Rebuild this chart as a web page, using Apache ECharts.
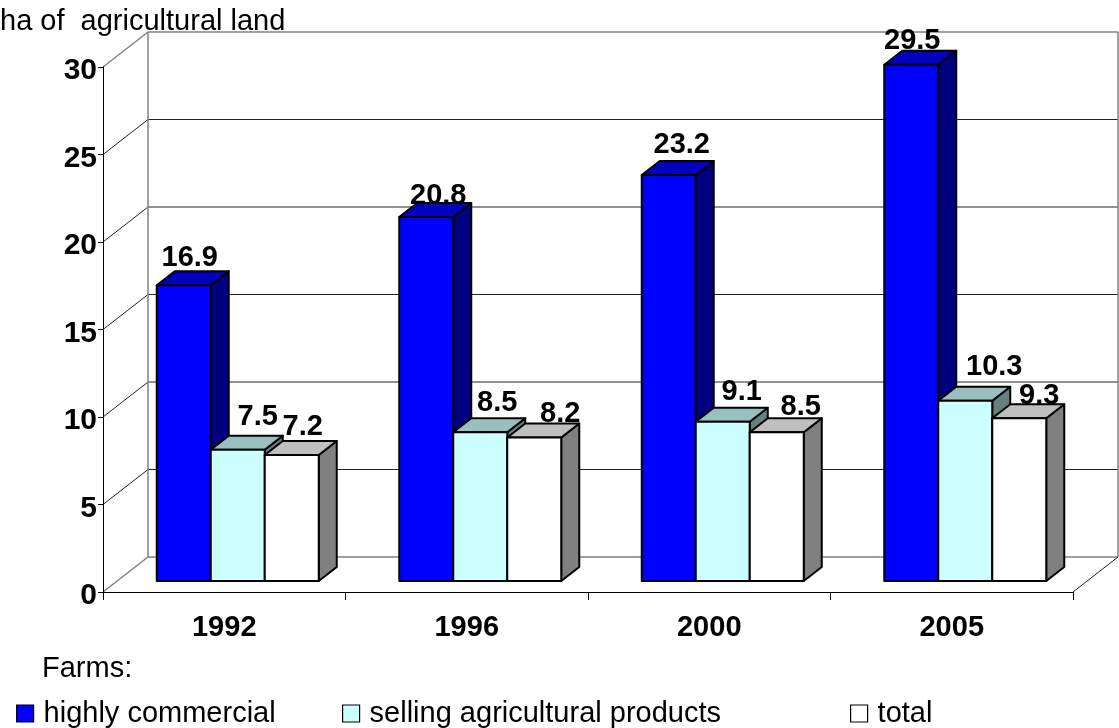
<!DOCTYPE html>
<html>
<head>
<meta charset="utf-8">
<style>html,body{margin:0;padding:0;background:#fff}#chart{width:1119px;height:728px}</style>
<script src="https://cdn.jsdelivr.net/npm/echarts@6/dist/echarts.min.js"></script>
</head>
<body>
<div id="chart"></div>
<script>
var categories = ['1992', '1996', '2000', '2005'];
var yTicks = [0, 5, 10, 15, 20, 25, 30];
var highlyCommercial = [16.9, 20.8, 23.2, 29.5];
var sellingProducts = [7.5, 8.5, 9.1, 10.3];
var totalFarms = [7.2, 8.2, 8.5, 9.3];
var seriesNames = ['highly commercial', 'selling agricultural products', 'total'];

// 3D look
var FONT = '"Liberation Sans", Arial, sans-serif';
var WALL_DX = 45, WALL_DY = -35;      // depth of the chart box
var BAR_DX = 18, BAR_DY = -14;        // depth of each bar
var FLOOR_DX = 13.5, FLOOR_DY = -11;  // bars stand this far inside the box
var BAR_FRAC = 54 / 242.5;
var faces = [
  {front: '#0000FF', top: '#0000BF', side: '#000080'},
  {front: '#CCFFFF', top: '#99BFBF', side: '#668080'},
  {front: '#FFFFFF', top: '#BFBFBF', side: '#808080'}
];
// hand placement of the value labels relative to the bar centre / top
var labelNudge = [
  [[6, -13], [12, -7], [13, -16], [1, -9]],
  [[20, -18], [17, -15], [19, -15], [29, -19]],
  [[11, -14], [26, -9], [24, -11], [20, -8]]
];

function barItem(s) {
  return function (params, api) {
    var i = api.value(0), v = api.value(1);
    var cat = api.size([1, 0])[0];
    var w = cat * BAR_FRAC;
    var c0 = api.coord([i, 0]), c1 = api.coord([i, v]);
    var x0 = c0[0] + FLOOR_DX + (s - 1.5) * w;
    var x1 = x0 + w;
    var yb = c0[1] + FLOOR_DY, yt = c1[1] + FLOOR_DY;
    var line = {stroke: '#000', lineWidth: 2, lineJoin: 'round'};
    var f = faces[s];
    function poly(pts, col) {
      return {type: 'polygon', shape: {points: pts}, style: Object.assign({fill: col}, line)};
    }
    return {type: 'group', children: [
      poly([[x1, yb], [x1 + BAR_DX, yb + BAR_DY], [x1 + BAR_DX, yt + BAR_DY], [x1, yt]], f.side),
      poly([[x0, yt], [x0 + BAR_DX, yt + BAR_DY], [x1 + BAR_DX, yt + BAR_DY], [x1, yt]], f.top),
      poly([[x0, yb], [x1, yb], [x1, yt], [x0, yt]], f.front)
    ]};
  };
}
function labelItem(s) {
  return function (params, api) {
    var i = api.value(0), v = api.value(1);
    var cat = api.size([1, 0])[0];
    var w = cat * BAR_FRAC;
    var c0 = api.coord([i, 0]), c1 = api.coord([i, v]);
    var n = labelNudge[s][i];
    return {type: 'text', style: {
      text: v.toFixed(1), x: c0[0] + FLOOR_DX + (s - 1) * w + n[0], y: c1[1] + FLOOR_DY + n[1],
      textAlign: 'center', textVerticalAlign: 'bottom', fill: '#000',
      font: 'bold 29px ' + FONT
    }};
  };
}
function gridLineItem(v, api) {
  var cat = api.size([1, 0])[0];
  var n = cat * categories.length;
  var a = api.coord([0, v]);
  var left = a[0] - cat / 2;
  var isTop = v === yTicks[yTicks.length - 1], isBottom = v === yTicks[0];
  var gray = isTop || isBottom;
  var st = {stroke: gray ? '#808080' : '#222', lineWidth: gray ? 1.5 : 1, fill: null};
  var x = left, y = a[1];
  var kids = [
    {type: 'line', shape: {x1: x, y1: y, x2: x + WALL_DX, y2: y + WALL_DY}, style: st},
    {type: 'line', shape: {x1: x + WALL_DX, y1: y + WALL_DY, x2: x + n + WALL_DX, y2: y + WALL_DY}, style: st}
  ];
  if (isBottom) {
    kids.push({type: 'line', shape: {x1: x + n, y1: y, x2: x + n + WALL_DX, y2: y + WALL_DY},
      style: {stroke: '#222', lineWidth: 1}});
  }
  if (isTop) {
    var b = api.coord([0, 0])[1];
    kids.push({type: 'line', shape: {x1: x + WALL_DX, y1: y + WALL_DY, x2: x + WALL_DX, y2: b + WALL_DY}, style: st});
    kids.push({type: 'line', shape: {x1: x + n + WALL_DX, y1: y + WALL_DY, x2: x + n + WALL_DX, y2: b + WALL_DY}, style: st});
  }
  return {type: 'group', children: kids};
}
function pairs(arr) { return arr.map(function (v, i) { return [i, v]; }); }

var allValues = [highlyCommercial, sellingProducts, totalFarms];
var series = [{
  type: 'custom', name: 'walls', z: 1, silent: true,
  data: yTicks.map(function (v) { return [0, v]; }),
  encode: {x: 0, y: 1}, renderItem: function (p, api) { return gridLineItem(api.value(1), api); }
}];
allValues.forEach(function (vals, s) {
  series.push({type: 'custom', name: seriesNames[s], z: 2, silent: true, data: pairs(vals),
    encode: {x: 0, y: 1}, renderItem: barItem(s), itemStyle: {color: faces[s].front}});
});
allValues.forEach(function (vals, s) {
  series.push({type: 'custom', name: seriesNames[s] + ' labels', z: 5, silent: true, data: pairs(vals),
    encode: {x: 0, y: 1}, renderItem: labelItem(s)});
});

function legendFor(s, left) {
  return {
    left: left, top: 699, orient: 'horizontal', selectedMode: false, padding: 0,
    itemWidth: 17, itemHeight: 17, itemGap: 0,
    textStyle: {fontFamily: FONT, fontSize: 29, color: '#000', padding: [0, 0, 0, 5]},
    data: [{name: seriesNames[s], icon: 'rect',
      itemStyle: {color: faces[s].front, borderColor: '#000', borderWidth: 1.2}}]
  };
}

var chart = echarts.init(document.getElementById('chart'), null, {renderer: 'canvas'});
chart.setOption({
  animation: false,
  backgroundColor: '#fff',
  title: [
    {text: 'ha of  agricultural land', left: 0, top: 7, padding: 0,
      textStyle: {fontFamily: FONT, fontSize: 29, fontWeight: 'normal', color: '#000'}},
    {text: 'Farms:', left: 42, top: 654, padding: 0,
      textStyle: {fontFamily: FONT, fontSize: 29, fontWeight: 'normal', color: '#000'}}
  ],
  legend: [legendFor(0, 16), legendFor(1, 342), legendFor(2, 850)],
  grid: {left: 103, right: 46, top: 67, bottom: 136, containLabel: false},
  xAxis: {
    type: 'category', data: categories, boundaryGap: true, z: 3,
    axisLine: {lineStyle: {color: '#000', width: 1}},
    axisTick: {show: true, length: 8, lineStyle: {color: '#000', width: 1}},
    axisLabel: {fontFamily: FONT, fontSize: 29, fontWeight: 'bold', color: '#000', margin: 21},
    splitLine: {show: false}
  },
  yAxis: {
    type: 'value', min: 0, max: 30, interval: 5, z: 3,
    axisLine: {show: true, lineStyle: {color: '#000', width: 1}},
    axisTick: {show: true, length: 5, lineStyle: {color: '#000', width: 1}},
    axisLabel: {fontFamily: FONT, fontSize: 30, fontWeight: 'bold', color: '#000', margin: 6,
      verticalAlign: 'top', lineHeight: 8},
    splitLine: {show: false}
  },
  series: series
});
</script>
</body>
</html>
